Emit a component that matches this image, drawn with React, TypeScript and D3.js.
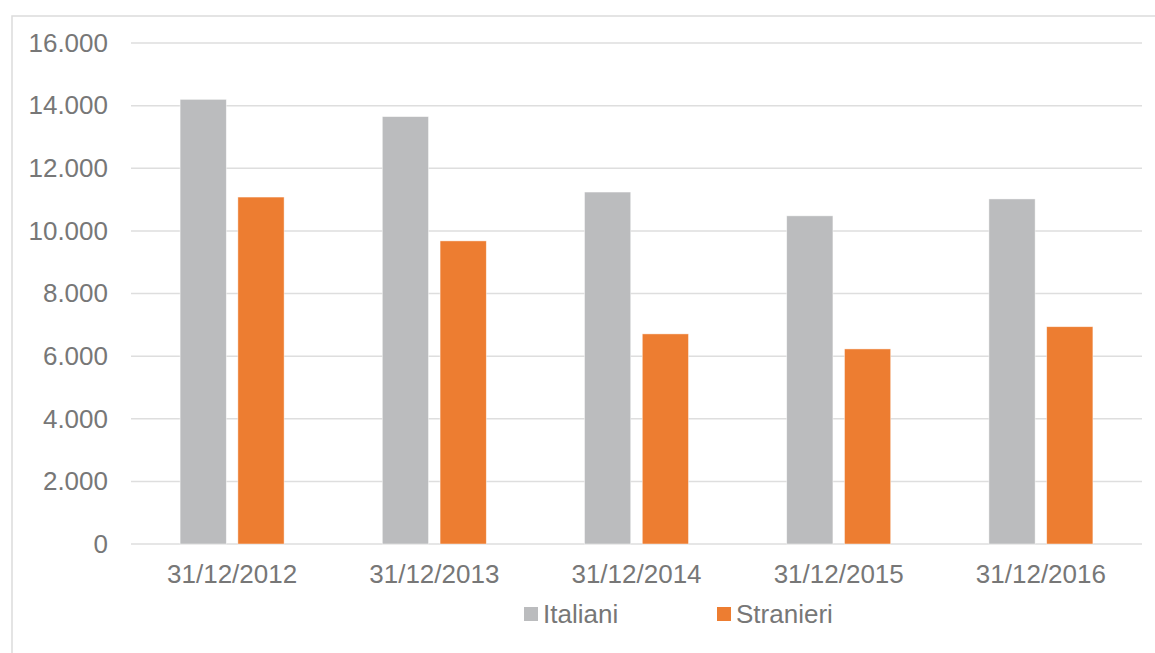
import React from "react";
import * as d3 from "d3";

const categories = ["31/12/2012", "31/12/2013", "31/12/2014", "31/12/2015", "31/12/2016"];
const seriesNames = ["Italiani", "Stranieri"];
const italiani = [14200, 13650, 11240, 10480, 11020];
const stranieri = [11080, 9680, 6710, 6230, 6940];
const yTicks = [0, 2000, 4000, 6000, 8000, 10000, 12000, 14000, 16000];
const colors = ["#BBBCBE", "#ED7D31"];

const W = 1155;
const H = 653;
const plotLeft = 131;
const plotRight = 1142;
const plotTop = 43;
const plotBottom = 544;
const FONT = "'Liberation Sans', Arial, sans-serif";
const TEXT = "#777777";
const FS = 26;

export default function App() {
  const x0 = d3.scaleBand<string>().domain(categories).range([plotLeft, plotRight]).padding(0);
  const x1 = d3.scaleBand<string>().domain(seriesNames).range([-52, 52]).paddingInner(0.2).paddingOuter(0);
  const y = d3.scaleLinear().domain([0, 16000]).range([plotBottom, plotTop]);
  const fmt = (v: number) => d3.format(",")(v).replace(/,/g, ".");
  const data = [italiani, stranieri];

  return (
    <svg width={W} height={H} style={{ position: "absolute", left: 0, top: 0, background: "#fff" }}>
      <rect x={12} y={16} width={1160} height={680} fill="#fff" stroke="#dcdcdc" strokeWidth={1.5} />
      {yTicks.map((t) => (
        <g key={t}>
          <line x1={plotLeft} x2={plotRight} y1={y(t)} y2={y(t)} stroke="#dedede" strokeWidth={1.5} />
          <text x={108} y={y(t)} dy="0.34em" textAnchor="end" fontFamily={FONT} fontSize={FS} fill={TEXT}>
            {fmt(t)}
          </text>
        </g>
      ))}
      {categories.map((c, i) => (
        <g key={c} transform={`translate(${(x0(c) as number) + x0.bandwidth() / 2},0)`}>
          {seriesNames.map((s, j) => (
            <rect
              key={s}
              x={x1(s) as number}
              y={y(data[j][i])}
              width={x1.bandwidth()}
              height={plotBottom - y(data[j][i])}
              fill={colors[j]}
              stroke="#fff"
              strokeOpacity={0.6}
              strokeWidth={0.75}
            />
          ))}
          <text x={0} y={583} textAnchor="middle" fontFamily={FONT} fontSize={FS} fill={TEXT}>
            {c}
          </text>
        </g>
      ))}
      {/* legend */}
      <rect x={524} y={607} width={14} height={14} fill={colors[0]} />
      <text x={543} y={623} fontFamily={FONT} fontSize={FS} fill={TEXT}>{seriesNames[0]}</text>
      <rect x={717} y={607} width={14} height={14} fill={colors[1]} />
      <text x={736} y={623} fontFamily={FONT} fontSize={FS} fill={TEXT}>{seriesNames[1]}</text>
    </svg>
  );
}
